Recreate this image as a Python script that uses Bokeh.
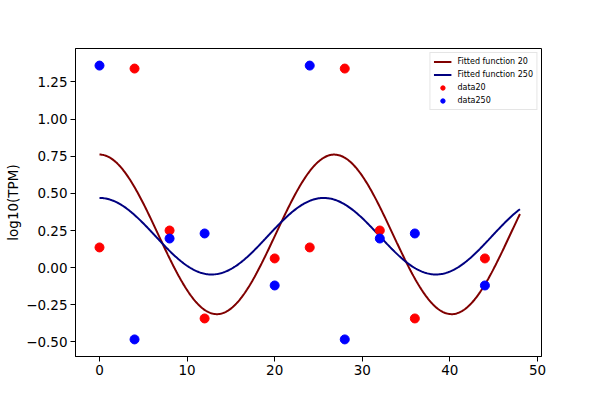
import numpy as np
from bokeh.plotting import figure
from bokeh.models import Range1d, FixedTicker, Legend, LegendItem
from bokeh.embed import file_html
from bokeh.resources import INLINE

# Data
time_points = [0, 4, 8, 12, 20, 24, 28, 32, 36, 44]
data20 = [0.136, 1.34, 0.25, -0.342, 0.062, 0.136, 1.34, 0.25, -0.342, 0.062]
data250 = [1.36, -0.483, 0.196, 0.23, -0.12, 1.36, -0.483, 0.196, 0.23, -0.12]

# Fitted cosine parameters (mesor, amplitude, period, acrophase)
fit20 = dict(mesor=0.224, amp=0.537, period=26.8, phase=0.0)
fit250 = dict(mesor=0.2115, amp=0.2575, period=25.6, phase=0.0)
fit_x_range = (0, 48)

x_ticks = [0, 10, 20, 30, 40, 50]
y_ticks = [-0.5, -0.25, 0.0, 0.25, 0.5, 0.75, 1.0, 1.25]
y_tick_labels = ["\u22120.50", "\u22120.25", "0.00", "0.25", "0.50", "0.75", "1.00", "1.25"]

labels = ["Fitted function 20", "Fitted function 250", "data20", "data250"]

def fitted(params, x):
    return params["mesor"] + params["amp"] * np.cos(2 * np.pi * (x - params["phase"]) / params["period"])

xs = np.linspace(fit_x_range[0], fit_x_range[1], 400)

p = figure(width=590, height=395, output_backend="svg", toolbar_location=None,
           x_range=Range1d(-2.74, 50.46), y_range=Range1d(-0.598, 1.475),
           min_border_left=75, min_border_right=49, min_border_top=48, min_border_bottom=39)
p.background_fill_color = "white"
p.border_fill_color = "white"
p.xgrid.visible = False
p.ygrid.visible = False
p.outline_line_color = "black"
p.outline_line_width = 1
p.outline_line_alpha = 1

l1 = p.line(xs, fitted(fit20, xs), line_color="#800000", line_width=2)
l2 = p.line(xs, fitted(fit250, xs), line_color="#000080", line_width=2)
s1 = p.scatter(time_points, data20, size=9, fill_color="red", line_color="red")
s2 = p.scatter(time_points, data250, size=9, fill_color="blue", line_color="blue")

for ax in (p.xaxis[0], p.yaxis[0]):
    ax.major_tick_in = 0
    ax.major_tick_out = 5
    ax.minor_tick_in = 0
    ax.minor_tick_out = 0
    ax.major_label_standoff = 3
    ax.major_label_text_font = "DejaVu Sans"
    ax.major_label_text_font_size = "13.5px"
    ax.major_label_text_color = "black"
    ax.axis_line_color = "black"
    ax.major_tick_line_color = "black"

p.xaxis.ticker = FixedTicker(ticks=x_ticks)
p.yaxis.ticker = FixedTicker(ticks=y_ticks)
p.yaxis.major_label_overrides = {t: l for t, l in zip(y_ticks, y_tick_labels)}
p.yaxis.axis_label = "log10(TPM)"
p.yaxis.axis_label_text_font = "DejaVu Sans"
p.yaxis.axis_label_text_font_size = "13.5px"
p.yaxis.axis_label_text_font_style = "normal"
p.yaxis.axis_label_text_color = "black"
p.yaxis.axis_label_standoff = 2

legend = Legend(items=[
    LegendItem(label=labels[0], renderers=[l1]),
    LegendItem(label=labels[1], renderers=[l2]),
    LegendItem(label=labels[2], renderers=[s1]),
    LegendItem(label=labels[3], renderers=[s2]),
], location="top_right")
legend.label_text_font = "DejaVu Sans"
legend.label_text_font_size = "8px"
legend.label_text_color = "black"
legend.label_height = 11
legend.glyph_height = 11
legend.glyph_width = 18
legend.spacing = 2
legend.padding = 3
legend.margin = 4
legend.label_standoff = 6
legend.border_line_color = "#cccccc"
legend.border_line_width = 1
legend.background_fill_alpha = 0.8
p.add_layout(legend)

open("out.html", "w").write(file_html(p, INLINE))
